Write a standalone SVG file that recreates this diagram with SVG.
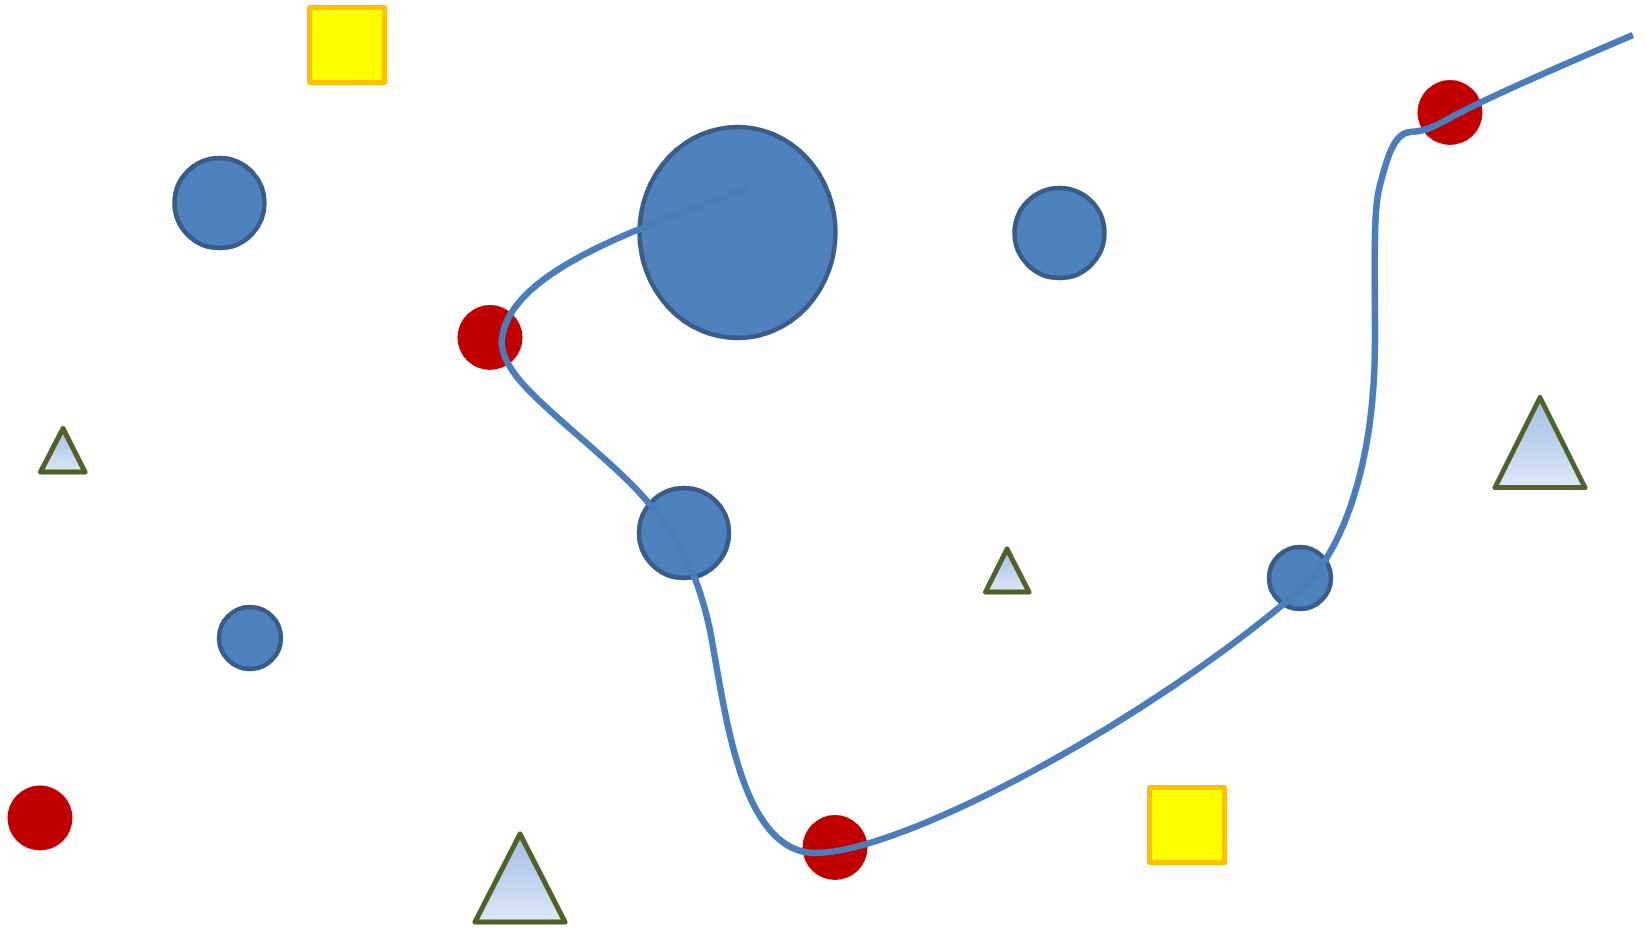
<svg xmlns="http://www.w3.org/2000/svg" width="1646" height="929" viewBox="0 0 1646 929">
<style>
.sq{fill:#ffff00;stroke:#ffc000;stroke-width:5;stroke-linejoin:round}
.bc{fill:#4f81bd;stroke:#385d8a;stroke-width:4.5}
.rc{fill:#c00000}
.tr{fill:url(#tg);stroke:#4f6228;stroke-width:5;stroke-linejoin:round}
.cv{fill:none;stroke:#4a7ebb;stroke-width:6.5}
</style>
<defs>
<linearGradient id="tg" x1="0" y1="0" x2="0" y2="1">
<stop offset="0" stop-color="#a3bbe6"/>
<stop offset="1" stop-color="#dde7f6"/>
</linearGradient>
</defs>
<rect width="1646" height="929" fill="#ffffff"/>
<g id="square1"><rect class="sq" x="309.5" y="7.5" width="75" height="75"/></g>
<g id="square2"><rect class="sq" x="1149.5" y="787.5" width="75" height="75"/></g>
<g id="circle1"><circle class="bc" cx="219.5" cy="203" r="45"/></g>
<g id="ellipse1"><ellipse class="bc" cx="737.5" cy="232.5" rx="98" ry="105.5"/></g>
<g id="circle2"><circle class="bc" cx="1059.5" cy="233" r="45"/></g>
<g id="circle3"><circle class="bc" cx="684" cy="533" r="45"/></g>
<g id="circle4"><circle class="bc" cx="250" cy="638" r="31"/></g>
<g id="circle5"><circle class="bc" cx="1300" cy="578" r="31"/></g>
<g id="red1"><circle class="rc" cx="490" cy="337.5" r="32.5"/></g>
<g id="red2"><circle class="rc" cx="40" cy="818" r="32.5"/></g>
<g id="red3"><circle class="rc" cx="835" cy="847.5" r="32.5"/></g>
<g id="red4"><circle class="rc" cx="1450" cy="112.5" r="32.5"/></g>
<g id="tri1"><polygon class="tr" points="63,428.5 40.5,472 85,472"/></g>
<g id="tri2"><polygon class="tr" points="1007,549 985.5,592 1029,592"/></g>
<g id="tri3"><polygon class="tr" points="1540,397.5 1495,487.5 1585,487.5"/></g>
<g id="tri4"><polygon class="tr" points="520,834 475,922 565,922"/></g>
<g id="connectors">
<path class="cv" d="M749,188 C645,226 510,270 502,338 C496,380 580,430 637,490 C670,525 695,560 710,630 C725,710 740,850 813,853 C900,855 1150,720 1300,590 C1340,555 1375,470 1375,340 C1375,260 1373,210 1380,185 C1386,162 1393,133 1410,132 C1425,131 1432,128 1450,118 C1468,108 1520,83 1633,35"/>
</g>
</svg>
